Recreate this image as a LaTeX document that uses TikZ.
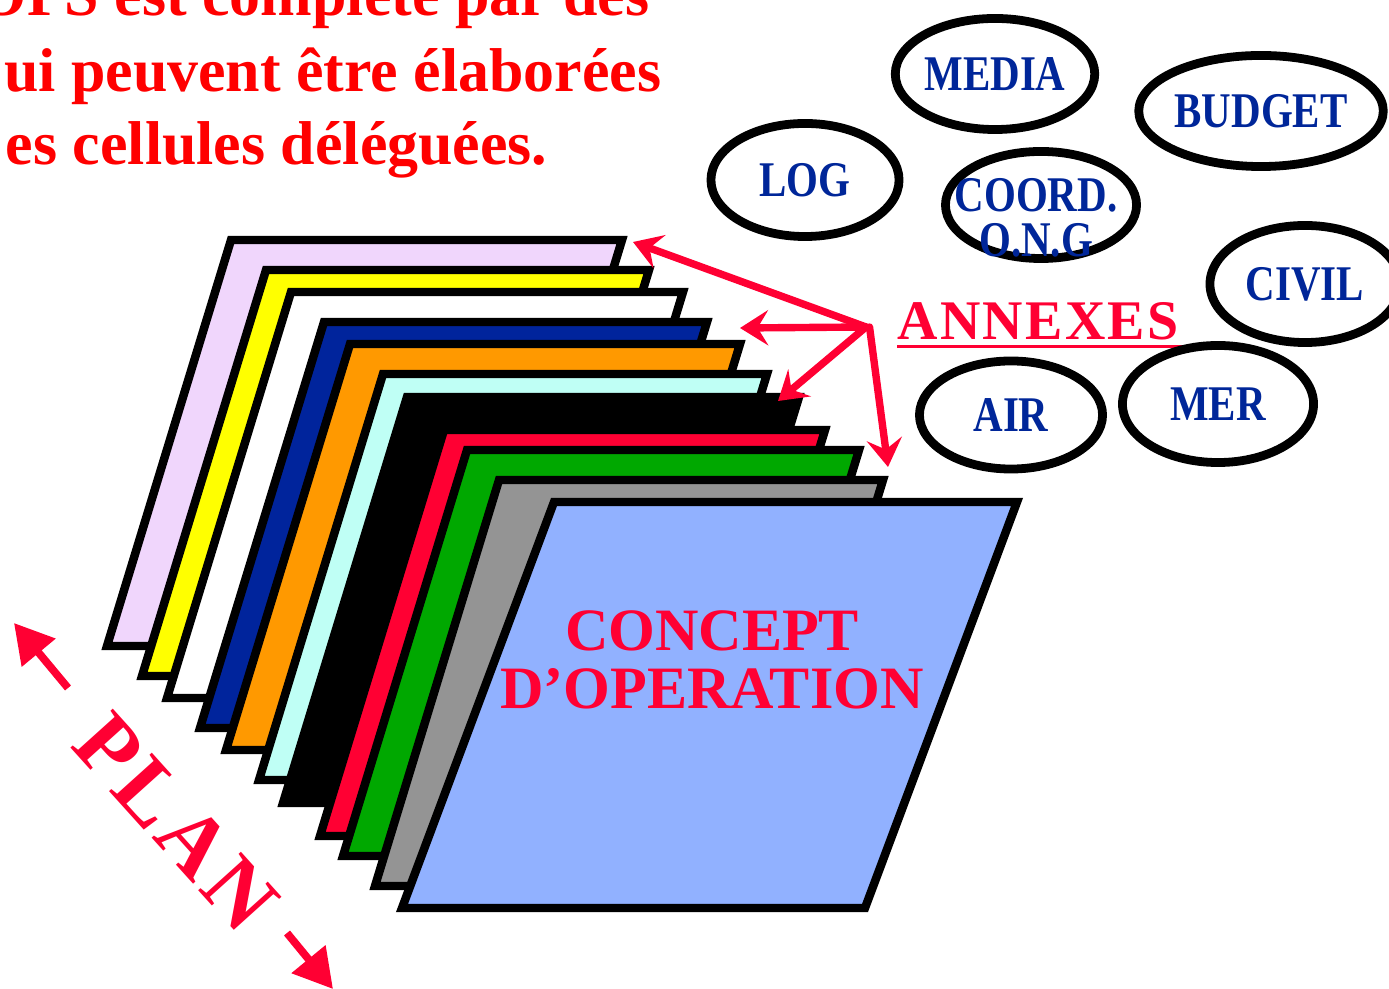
\documentclass[tikz,border=0pt]{standalone}
\usepackage{fontspec}
\setmainfont{Liberation Serif}
\newfontfamily\ovalfont{Liberation Serif}[FakeStretch=0.82]
\usetikzlibrary{arrows.meta,shapes.geometric}

\definecolor{sheetlilas}{RGB}{240,214,252}
\definecolor{sheetyellow}{RGB}{255,255,0}
\definecolor{sheetnavy}{RGB}{0,36,156}
\definecolor{sheetorange}{RGB}{255,153,0}
\definecolor{sheetcyan}{RGB}{191,255,245}
\definecolor{sheetred}{RGB}{255,0,51}
\definecolor{sheetgreen}{RGB}{0,168,0}
\definecolor{sheetgray}{RGB}{148,148,148}
\definecolor{sheetfront}{RGB}{145,177,255}
\definecolor{annexred}{RGB}{255,0,51}
\definecolor{ovalblue}{RGB}{0,38,153}

\tikzset{
  sheet/.style={draw=black,line width=2.4pt,line join=miter},
  oval/.style={ellipse,draw=black,line width=2.5pt,inner sep=0pt,text=ovalblue,
    font=\ovalfont\bfseries\fontsize{14.2pt}{12.8pt}\selectfont},
  titletext/.style={anchor=base east,inner sep=0pt,text=red,
    font=\bfseries\fontsize{17.6pt}{20pt}\selectfont},
  annexarrow/.style={draw=annexred,line width=2.1pt,line cap=round,
    -{Stealth[length=8pt,width=10pt,inset=3pt]}},
  planarrow/.style={draw=annexred,line width=2.2pt,
    -{Triangle[length=11pt,width=12pt]}}
}

\begin{document}
\begin{tikzpicture}[x=0.01cm,y=-0.01cm]
\useasboundingbox (0,0) rectangle (1389,989);
\clip (0,0) rectangle (1389,989);

% Title, cut by the frame
\node[titletext] (line1) at (650,16) {OPS est complété par des};
\node[titletext] (line2) at (662,92) {ui peuvent être élaborées};
\node[titletext] (line3) at (548,165) {es cellules déléguées.};

% Stack of sheets
\foreach \c/\xl/\yt/\w in {sheetlilas/231/240/391, sheetyellow/266/270/383,
    white/291/292/392, sheetnavy/324/322/383, sheetorange/350/344/390,
    sheetcyan/383/374/384, black/407/397/392, sheetred/444/430/381,
    sheetgreen/467/450/392, sheetgray/499/480/384}
  \draw[sheet,fill=\c] (\xl,\yt) -- ++(\w,0) -- ++(-124,406) -- ++(-\w,0) -- cycle;

% Front sheet
\draw[sheet,fill=sheetfront] (554,502) -- ++(463,0) -- ++(-152,406) -- ++(-463,0) -- cycle;
\node[align=center,inner sep=0pt,text=annexred,
  font=\bfseries\fontsize{17.1pt}{16.5pt}\selectfont] (concept) at (712,660)
  {CONCEPT\\D’OPERATION};

% Annexes arrows
\coordinate (hub) at (866,327);
\coordinate (tolilas) at (633,242);
\coordinate (tonavy) at (740,328);
\coordinate (toblack) at (778,401);
\coordinate (tofront) at (888,467);
\foreach \t in {tolilas,tonavy,toblack}
  \draw[annexarrow] (hub) -- (\t);
\draw[annexarrow] ([xshift=1pt]hub) -- (tofront);

\node[anchor=base west,inner sep=0pt,text=annexred,
  font=\bfseries\fontsize{15.9pt}{18pt}\selectfont\addfontfeatures{LetterSpace=4}]
  (annexes) at (897,340) {ANNEXES};
\draw[annexred,line width=1pt] ([yshift=-1.8pt]annexes.base west)
  -- ([xshift=1pt,yshift=-1.8pt]annexes.base east);

% Annexes ovals
\foreach \n/\t/\cx/\cy/\w/\h in {media/MEDIA/995/74/1.77/1.11,
    budget/BUDGET/1261/111/2.43/1.11, log/LOG/805/180/1.88/1.13,
    civil/CIVIL/1305/284/1.90/1.17, air/AIR/1011/415/1.83/1.08,
    mer/MER/1218/404/1.91/1.17}
  \node[oval,minimum width=\w cm,minimum height=\h cm] (\n) at (\cx,\cy) {\t};
\node[oval,minimum width=1.91cm,minimum height=1.07cm] (coord) at (1041,205) {};
\node[oval,draw=none,align=center] (coordtext) at (1036,218) {COORD.\\O.N.G};

% Plan
\node[rotate=-48,inner sep=0pt,text=annexred,
  font=\bfseries\fontsize{25pt}{28pt}\selectfont\addfontfeatures{LetterSpace=6}]
  (plan) at (176,822) {PLAN};
\coordinate (planstart) at (68,688);
\coordinate (plantipA) at (14,623);
\coordinate (planend) at (287,933);
\coordinate (plantipB) at (333,989);
\draw[planarrow] (planstart) -- (plantipA);
\draw[planarrow] (planend) -- (plantipB);
\end{tikzpicture}
\end{document}
